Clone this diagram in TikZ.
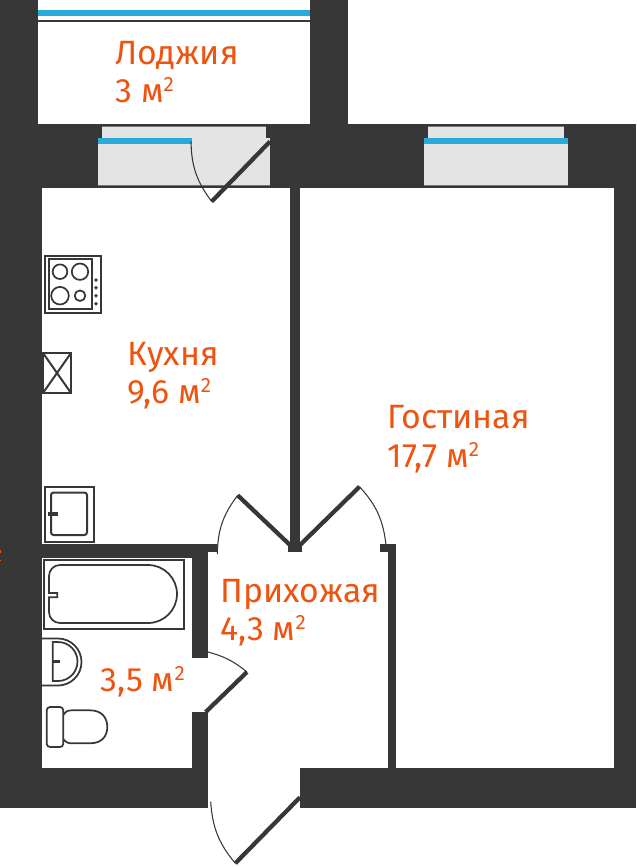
\documentclass[tikz,border=0pt]{standalone}
\usepackage{fontspec}
\setmainfont{Fira Sans}
\definecolor{wallgray}{HTML}{373737}
\definecolor{glassblue}{HTML}{29ABD9}
\definecolor{sillgray}{HTML}{E4E4E4}
\definecolor{labelred}{HTML}{EE5410}
\newcommand{\sqmeter}{м\raisebox{8.2pt}{\fontsize{15.5}{15.5}\selectfont 2}}
\tikzset{wall/.style = {fill = wallgray},
         sill/.style = {fill = sillgray},
         glass/.style = {fill = glassblue},
         edgeline/.style = {fill = wallgray!70},
         fixture/.style = {draw = wallgray, line width = 1.5pt},
         thinfix/.style = {draw = wallgray, line width = 1.3pt},
         leaf/.style = {draw = wallgray, line width = 3.2pt},
         swing/.style = {draw = wallgray, line width = .8pt},
         roomlabel/.style = {text = labelred, font = \fontsize{25.3}{28.9}\selectfont,
                             align = left, anchor = north west, inner sep = 0pt}}
\begin{document}
\begin{tikzpicture}[x = .75pt, y = -.75pt]
    \useasboundingbox (0,0) rectangle (636,867);
    % walls
    \fill[wall] (0,0) rectangle (38,124);
    \fill[wall] (310,0) rectangle (348,124);
    \fill[wall] (0,124) rectangle (636,188);
    \fill[wall] (0,188) rectangle (42,808);
    \fill[wall] (614,188) rectangle (636,808);
    \fill[wall] (290,188) rectangle (300,552);
    \fill[wall] (288,544) rectangle (302,552);
    \fill[wall] (42,544) rectangle (192,558);
    \fill[wall] (192,544) rectangle (217,552);
    \fill[wall] (192,552) rectangle (208,658);
    \fill[wall] (192,712) rectangle (208,768);
    \fill[wall] (42,768) rectangle (208,808);
    \fill[wall] (300,768) rectangle (614,808);
    \fill[wall] (388,544) rectangle (396,768);
    \fill[wall] (380,544) rectangle (396,552);
    \fill[labelred] (0,549.5) rectangle (1,553);
    \fill[labelred] (0,559.5) rectangle (1,561);
    % loggia glazing
    \fill[glass] (38,10) rectangle (310,16);
    \fill[wall] (38,20) rectangle (310,22);
    % windows
    \foreach \xa/\xb/\xc/\xd/\xe in {98/102/266/270/192, 424/428/564/568/568} {
        \fill[sill] (\xb,126) rectangle (\xc,138);
        \fill[edgeline] (\xb,126) rectangle (\xc,127);
        \fill[sill] (\xa,138) rectangle (\xd,186);
        \fill[edgeline] (\xa,185) rectangle (\xd,186);
        \fill[glass] (\xa,138) rectangle (\xe,144);
    }
    % doors
    \coordinate (balconyhinge) at (270,141.5);
    \coordinate (balconytip) at (211.7,201.5);
    \coordinate (balconyjamb) at (191,141.5);
    \coordinate (kitchenhinge) at (290,545);
    \coordinate (kitchentip) at (237.7,495.3);
    \coordinate (kitchenjamb) at (217.3,554);
    \coordinate (roomhinge) at (300,545);
    \coordinate (roomtip) at (359.5,486.7);
    \coordinate (roomjamb) at (386,545);
    \coordinate (bathhinge) at (205.7,712);
    \coordinate (bathtip) at (247,672);
    \coordinate (bathjamb) at (208,652);
    \coordinate (entryhinge) at (300,797.3);
    \coordinate (entrytip) at (235.3,863.3);
    \coordinate (entryjamb) at (210.7,801.7);
    \draw[leaf] (balconyhinge) -- (balconytip);
    \draw[swing] (balconyjamb) to[bend right = 18] (balconytip);
    \draw[leaf] (kitchenhinge) -- (kitchentip);
    \draw[swing] (kitchenjamb) to[bend left = 18] (kitchentip);
    \draw[leaf] (roomhinge) -- (roomtip);
    \draw[swing] (roomjamb) to[bend right = 18] (roomtip);
    \draw[leaf] (bathhinge) -- (bathtip);
    \draw[swing] (bathjamb) to[bend left = 12] (bathtip);
    \draw[leaf] (entryhinge) -- (entrytip);
    \draw[swing] (entryjamb) to[bend right = 18] (entrytip);
    % cooktop
    \draw[fixture] (45,255.5) rectangle (101,313);
    \draw[fixture] (48.5,258.5) rectangle (92,309);
    \draw[thinfix] (60,271.7) circle [radius = 7.3];
    \draw[thinfix] (80,271.7) circle [radius = 8.2];
    \draw[thinfix] (60,295.7) circle [radius = 8.8];
    \draw[thinfix] (80,295.7) circle [radius = 5.3];
    \foreach \dy in {280,287.7,295.7,303.7}
        \fill[wall] (96,\dy) circle [radius = 1.8];
    % vent
    \draw[fixture] (43,353) rectangle (71,393);
    \draw[fixture] (43,353) -- (71,393);
    \draw[fixture] (71,353) -- (43,393);
    % kitchen sink
    \draw[fixture] (44.7,486.7) rectangle (93.5,541.5);
    \draw[fixture, rounded corners = 2pt] (51,492.5) rectangle (87,535);
    \fill[wall] (48.3,512.2) rectangle (58,515.8);
    % bath
    \draw[fixture] (44,560) rectangle (183.5,629);
    \draw[thinfix] (49,593) -- (49,576) arc [start angle = 180, end angle = 270, radius = 11]
        -- (148,565) arc [start angle = -90, end angle = 90, radius = 29]
        -- (60,623) arc [start angle = 90, end angle = 180, radius = 11]
        -- (49,597.3) -- (57.3,597.3) -- (57.3,593) -- cycle;
    % wash basin
    \draw[thinfix] (42,638.5) -- (58,638.5) arc [start angle = -90, end angle = 90, radius = 23.5] -- (42,685.5);
    \draw[thinfix] (52.7,642) -- (58,642) arc [start angle = -90, end angle = 90, radius = 19.5] -- (52.7,681) -- cycle;
    \fill[wall] (52.7,660) rectangle (60,663.4);
    % toilet
    \draw[thinfix, rounded corners = 2.5pt] (46.7,707) rectangle (63.3,747);
    \draw[thinfix] (63.3,715) .. controls (66,711) and (68,710.3) .. (72,710.3) -- (90,710.3)
        .. controls (102,710.3) and (107.3,718) .. (107.3,727)
        .. controls (107.3,736) and (102,743.3) .. (90,743.3) -- (72,743.3)
        .. controls (68,743.3) and (66,742.5) .. (63.3,739);
    % room labels
    \node[roomlabel] (loggia) at (115,40.8) {Лоджия\\3 \sqmeter};
    \node[roomlabel] (kitchen) at (127.5,341.5) {Кухня\\9,6 \sqmeter};
    \node[roomlabel] (living) at (387.5,405.3) {Гостиная\\17,7 \sqmeter};
    \node[roomlabel] (hall) at (220.5,578.5) {Прихожая\\4,3 \sqmeter};
    \node[roomlabel] (bathroom) at (100.5,666.5) {3,5 \sqmeter};
\end{tikzpicture}
\end{document}
